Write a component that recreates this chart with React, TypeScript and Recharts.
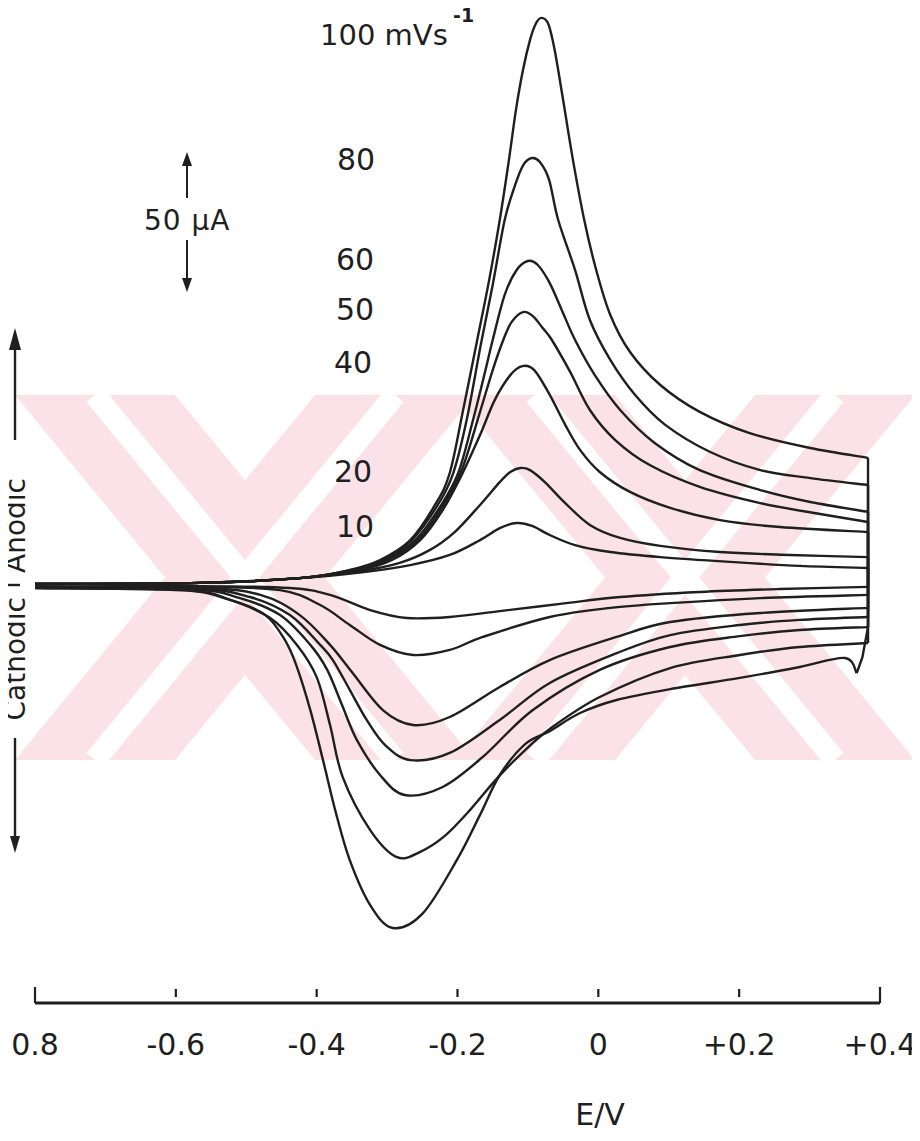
import React from "react";
import { LineChart, Line, XAxis, YAxis } from "recharts";

type Pt = [number, number];

const ink = "#1f1f1f";
const font = '"DejaVu Sans", sans-serif';

// scan rates, mV/s
const scanRates = [10, 20, 40, 50, 60, 80, 100];

const eTicks = [-0.8, -0.6, -0.4, -0.2, 0, 0.2, 0.4];
const eTickLabels = ["0.8", "-0.6", "-0.4", "-0.2", "0", "+0.2", "+0.4"];

// anodic (forward) sweeps: [E / V, I / µA]
const fwd10: Pt[] = [[-0.8, 0.5], [-0.566, 0.9], [-0.424, 2.7], [-0.333, 5.0], [-0.267, 7.6], [-0.211, 11.4], [-0.168, 17.0], [-0.14, 21.5], [-0.116, 23.4], [-0.094, 22.3], [-0.069, 18.9], [-0.033, 15.1], [0.017, 12.5], [0.088, 10.6], [0.187, 8.8], [0.286, 7.3], [0.383, 6.5]];
const fwd20: Pt[] = [[-0.8, 0.5], [-0.566, 0.9], [-0.424, 2.7], [-0.336, 5.4], [-0.282, 8.4], [-0.239, 13.3], [-0.204, 20.0], [-0.168, 30.2], [-0.14, 38.8], [-0.125, 42.6], [-0.111, 44.1], [-0.097, 43.3], [-0.076, 38.8], [-0.047, 30.9], [-0.012, 22.7], [0.031, 17.8], [0.088, 14.8], [0.173, 12.5], [0.272, 11.4], [0.383, 10.6]];
const fwd40: Pt[] = [[-0.8, 0.5], [-0.566, 0.9], [-0.424, 2.7], [-0.338, 5.8], [-0.293, 9.5], [-0.253, 17.0], [-0.221, 28.3], [-0.194, 41.5], [-0.168, 56.5], [-0.147, 69.7], [-0.125, 79.0], [-0.108, 82.4], [-0.091, 80.9], [-0.069, 71.6], [-0.047, 60.3], [-0.026, 50.9], [0.002, 42.6], [0.045, 35.1], [0.102, 29.1], [0.173, 24.5], [0.258, 21.9], [0.383, 20.0]];
const fwd50: Pt[] = [[-0.8, 0.5], [-0.566, 0.9], [-0.424, 2.7], [-0.341, 5.8], [-0.299, 9.5], [-0.256, 17.0], [-0.222, 29.4], [-0.194, 43.3], [-0.168, 65.2], [-0.15, 80.9], [-0.135, 92.2], [-0.123, 99.0], [-0.107, 102.7], [-0.093, 101.2], [-0.079, 96.7], [-0.066, 92.2], [-0.04, 80.2], [-0.012, 65.9], [0.024, 54.6], [0.073, 45.2], [0.144, 37.0], [0.23, 30.9], [0.315, 26.8], [0.383, 23.8]];
const fwd60: Pt[] = [[-0.8, 0.5], [-0.566, 0.9], [-0.424, 2.7], [-0.346, 5.8], [-0.303, 9.5], [-0.26, 17.0], [-0.225, 29.4], [-0.199, 42.2], [-0.178, 62.1], [-0.162, 79.0], [-0.15, 92.2], [-0.133, 109.2], [-0.116, 118.5], [-0.1, 121.9], [-0.086, 120.4], [-0.069, 113.6], [-0.052, 103.5], [-0.033, 92.2], [-0.005, 79.0], [0.031, 65.9], [0.08, 53.5], [0.144, 43.3], [0.23, 35.8], [0.301, 31.3], [0.383, 27.6]];
const fwd80: Pt[] = [[-0.8, 0.5], [-0.566, 0.9], [-0.424, 2.7], [-0.35, 5.8], [-0.307, 9.5], [-0.265, 17.0], [-0.228, 30.2], [-0.206, 42.2], [-0.187, 62.1], [-0.167, 90.3], [-0.15, 112.9], [-0.133, 137.3], [-0.118, 150.6], [-0.106, 158.2], [-0.094, 160.6], [-0.083, 159.1], [-0.07, 152.5], [-0.057, 137.3], [-0.033, 118.5], [-0.012, 99.7], [0.017, 84.7], [0.052, 71.6], [0.095, 60.3], [0.159, 50.1], [0.23, 43.3], [0.301, 40.3], [0.383, 37.7]];
const fwd100: Pt[] = [[-0.8, 0.5], [-0.566, 0.9], [-0.424, 2.7], [-0.353, 5.8], [-0.31, 9.5], [-0.267, 17.0], [-0.232, 30.2], [-0.211, 42.2], [-0.192, 65.9], [-0.172, 92.2], [-0.155, 114.8], [-0.14, 137.3], [-0.127, 159.8], [-0.117, 178.7], [-0.107, 193.7], [-0.097, 205.0], [-0.089, 211.0], [-0.081, 213.3], [-0.071, 211.0], [-0.062, 201.2], [-0.05, 182.4], [-0.036, 159.8], [-0.02, 137.3], [-0.003, 118.5], [0.017, 101.6], [0.045, 87.7], [0.088, 75.3], [0.144, 65.2], [0.215, 57.2], [0.301, 51.6], [0.383, 47.9]];

// cathodic (reverse) sweeps, listed from low to high E
const rev10: Pt[] = [[-0.8, -0.6], [-0.566, -0.3], [-0.438, -1.0], [-0.381, -3.6], [-0.324, -9.3], [-0.272, -12.3], [-0.211, -11.9], [-0.14, -9.7], [-0.054, -7.0], [0.031, -4.4], [0.144, -2.5], [0.258, -1.4], [0.383, -0.6]];
const rev20: Pt[] = [[-0.8, -0.6], [-0.566, -0.6], [-0.452, -1.8], [-0.395, -7.4], [-0.353, -14.9], [-0.31, -22.4], [-0.263, -26.2], [-0.211, -24.3], [-0.164, -19.4], [-0.069, -11.9], [0.017, -8.5], [0.102, -6.7], [0.23, -4.8], [0.383, -3.6]];
const rev40: Pt[] = [[-0.8, -0.6], [-0.566, -1.0], [-0.48, -3.6], [-0.424, -11.2], [-0.381, -22.4], [-0.35, -32.6], [-0.306, -46.9], [-0.263, -52.5], [-0.211, -49.5], [-0.14, -38.2], [-0.069, -28.1], [0.026, -19.4], [0.102, -13.8], [0.23, -10.4], [0.383, -8.5]];
const rev50: Pt[] = [[-0.8, -0.6], [-0.58, -1.0], [-0.495, -4.4], [-0.438, -11.2], [-0.395, -22.4], [-0.377, -28.1], [-0.353, -39.3], [-0.329, -50.6], [-0.303, -60.0], [-0.267, -65.7], [-0.211, -63.0], [-0.14, -50.6], [-0.069, -36.7], [0.026, -25.5], [0.102, -18.7], [0.201, -14.9], [0.286, -13.0], [0.383, -11.9]];
const rev60: Pt[] = [[-0.8, -0.6], [-0.58, -1.4], [-0.509, -4.8], [-0.452, -11.2], [-0.409, -22.4], [-0.385, -31.8], [-0.364, -45.0], [-0.343, -58.1], [-0.31, -71.3], [-0.275, -78.8], [-0.221, -75.8], [-0.164, -64.5], [-0.093, -46.9], [0.002, -31.8], [0.102, -23.2], [0.201, -19.1], [0.286, -16.8], [0.383, -15.7]];
const rev80: Pt[] = [[-0.8, -1.0], [-0.587, -1.8], [-0.523, -5.5], [-0.466, -12.3], [-0.428, -22.4], [-0.4, -34.5], [-0.381, -52.5], [-0.363, -72.1], [-0.324, -92.0], [-0.286, -102.2], [-0.253, -100.2], [-0.218, -94.2], [-0.182, -84.4], [-0.147, -73.5], [-0.111, -63.7], [-0.069, -54.0], [0.002, -42.0], [0.102, -31.1], [0.201, -26.2], [0.286, -23.2], [0.383, -21.7]];
const rev100: Pt[] = [[-0.8, -1.0], [-0.594, -1.8], [-0.523, -5.5], [-0.473, -11.2], [-0.445, -20.6], [-0.429, -30.0], [-0.409, -46.9], [-0.391, -65.7], [-0.373, -85.2], [-0.353, -103.3], [-0.324, -120.2], [-0.292, -128.8], [-0.249, -123.2], [-0.201, -103.3], [-0.168, -86.3], [-0.14, -71.3], [-0.104, -59.7], [-0.069, -54.8], [-0.026, -48.0], [0.026, -43.1], [0.102, -39.0], [0.201, -34.8], [0.286, -30.7], [0.35, -27.3], [0.367, -33.0]];

// switching point of the fastest scan (small hook at the vertex)
const turn100: Pt[] = [[0.383, 47.9], [0.383, -15.7], [0.375, -27.0], [0.367, -33.0]];

const forward: Record<number, Pt[]> = { 10: fwd10, 20: fwd20, 40: fwd40, 50: fwd50, 60: fwd60, 80: fwd80, 100: fwd100 };
const reverse: Record<number, Pt[]> = { 10: rev10, 20: rev20, 40: rev40, 50: rev50, 60: rev60, 80: rev80, 100: rev100 };

const toPts = (a: Pt[]) => a.map(([E, I]) => ({ E, I }));

// Catmull-Rom curve factory (smooth, passes through every point)
function catmullRom(context: any) {
  let pts: number[][] = [];
  return {
    areaStart() {},
    areaEnd() {},
    lineStart() {
      pts = [];
    },
    point(x: number, y: number) {
      pts.push([+x, +y]);
    },
    lineEnd() {
      const n = pts.length;
      if (!n) return;
      context.moveTo(pts[0][0], pts[0][1]);
      for (let i = 0; i < n - 1; i++) {
        const p0 = pts[i - 1] || pts[i];
        const p1 = pts[i];
        const p2 = pts[i + 1];
        const p3 = pts[i + 2] || p2;
        context.bezierCurveTo(
          p1[0] + (p2[0] - p0[0]) / 6,
          p1[1] + (p2[1] - p0[1]) / 6,
          p2[0] - (p3[0] - p1[0]) / 6,
          p2[1] - (p3[1] - p1[1]) / 6,
          p2[0],
          p2[1]
        );
      }
    },
  };
}

function ETick(props: any) {
  const { x, y, index } = props;
  const end = index === 0 || index === eTicks.length - 1;
  return (
    <g>
      <line x1={x} x2={x} y1={end ? y - 16 : y - 14} y2={end ? y : y - 6} stroke={ink} strokeWidth={2.2} />
      <text x={x} y={y + 52} textAnchor="middle" fontSize={30} fill={ink} fontFamily={font}>
        {eTickLabels[index]}
      </text>
    </g>
  );
}

const pink = "#fbe2e8";

export default function App() {
  const series = scanRates.flatMap((r) => {
    const f = forward[r];
    const b = reverse[r];
    const turn = r === 100 ? turn100 : [f[f.length - 1], b[b.length - 1]];
    return [
      { key: `f${r}`, data: toPts(f), curve: catmullRom as any },
      { key: `r${r}`, data: toPts(b), curve: catmullRom as any },
      { key: `t${r}`, data: toPts(turn), curve: "linear" as any },
    ];
  });

  const rateLabels = [
    { t: "80", x: 337, y: 170 },
    { t: "60", x: 336, y: 270 },
    { t: "50", x: 336, y: 320 },
    { t: "40", x: 334, y: 373 },
    { t: "20", x: 334, y: 482 },
    { t: "10", x: 336, y: 537 },
  ];

  return (
    <div style={{ position: "relative", width: 920, height: 1141, margin: -8, background: "#fff", overflow: "hidden" }}>
      {/* faint watermark behind the plot */}
      <svg width={920} height={1141} style={{ position: "absolute", left: 0, top: 0 }}>
        <g fill={pink}>
          <polygon points="15,395 175,395 475,760 315,760" />
          <polygon points="315,395 475,395 175,760 15,760" />
          <polygon points="455,395 615,395 915,760 755,760" />
          <polygon points="755,395 915,395 615,760 455,760" />
        </g>
        <g stroke="#fff" strokeWidth={22}>
          <line x1={95} y1={395} x2={395} y2={760} />
          <line x1={395} y1={395} x2={95} y2={760} />
          <line x1={535} y1={395} x2={835} y2={760} />
          <line x1={835} y1={395} x2={535} y2={760} />
        </g>
      </svg>

      <div style={{ position: "absolute", left: 0, top: 0 }}>
        <LineChart width={920} height={1141} margin={{ top: 0, right: 40, bottom: 0, left: 35 }}>
          <XAxis
            type="number"
            dataKey="E"
            domain={[-0.8, 0.4]}
            ticks={eTicks}
            interval={0}
            allowDataOverflow
            height={138}
            tickSize={0}
            tickMargin={0}
            tickLine={false}
            axisLine={{ stroke: ink, strokeWidth: 3 }}
            tick={(p: any) => <ETick {...p} />}
          />
          <YAxis type="number" domain={[-157, 220]} allowDataOverflow hide />
          {series.map((s) => (
            <Line
              key={s.key}
              data={s.data}
              dataKey="I"
              type={s.curve}
              stroke={ink}
              strokeWidth={2.4}
              dot={false}
              activeDot={false}
              isAnimationActive={false}
            />
          ))}
        </LineChart>
      </div>

      <svg width={920} height={1141} style={{ position: "absolute", left: 0, top: 0, pointerEvents: "none" }} fontFamily={font} fill={ink}>
        <text x={320} y={45} fontSize={29}>100 mVs</text>
        <text x={453} y={22} fontSize={19} fontWeight="bold">-1</text>
        {rateLabels.map((l) => (
          <text key={l.t} x={l.x} y={l.y} fontSize={30}>{l.t}</text>
        ))}

        {/* 50 µA scale bar */}
        <line x1={187} y1={163} x2={187} y2={198} stroke={ink} strokeWidth={2} />
        <polygon points="187,152 182,166 192,166" />
        <text x={144} y={230} fontSize={28} letterSpacing={1}>50 µA</text>
        <line x1={187} y1={240} x2={187} y2={281} stroke={ink} strokeWidth={2} />
        <polygon points="187,292 182,278 192,278" />

        {/* current axis on the left edge */}
        <line x1={15} y1={342} x2={15} y2={440} stroke={ink} strokeWidth={2.4} />
        <polygon points="15,328 9,350 21,350" />
        <line x1={15} y1={738} x2={15} y2={840} stroke={ink} strokeWidth={2.4} />
        <polygon points="15,853 10,836 20,836" />
        <line x1={8} y1={585} x2={20} y2={585} stroke={ink} strokeWidth={2.4} />
        <text transform="translate(25,597) rotate(-90)" textAnchor="end" fontSize={28}>Cathodic</text>
        <text transform="translate(25,573) rotate(-90)" textAnchor="start" fontSize={28}>Anodic</text>

        <text x={600} y={1125} textAnchor="middle" fontSize={30}>E/V</text>
      </svg>
    </div>
  );
}
